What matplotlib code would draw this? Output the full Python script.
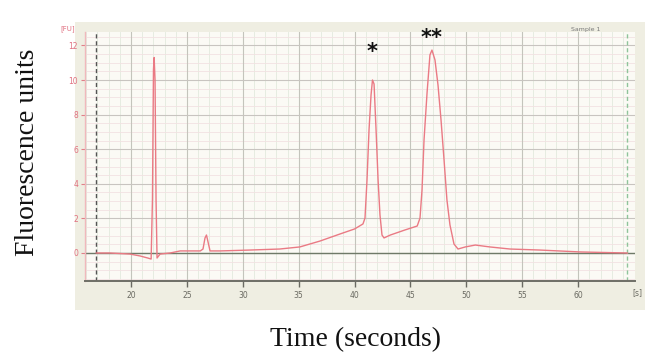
import matplotlib
matplotlib.use("Agg")
import matplotlib.pyplot as plt
import numpy as np

# ---- data ----
time_s = [16.9, 18.1, 19.9, 20.8, 21.5, 21.8, 21.92, 22.01, 22.07, 22.15, 22.24, 22.33,
          22.6, 23.5, 24.4, 26.2, 26.44, 26.62, 26.75, 26.89, 27.07, 28.0, 30.6, 33.3,
          35.1, 36.9, 38.7, 40.0, 40.75, 40.93, 41.11, 41.29, 41.47, 41.6, 41.74, 41.92,
          42.1, 42.27, 42.45, 42.63, 43.2, 44.5, 45.6, 45.85, 46.03, 46.21, 46.48, 46.74,
          46.92, 47.19, 47.46, 47.73, 48.0, 48.26, 48.53, 48.89, 49.25, 49.9, 50.8, 52.1,
          53.9, 56.6, 60.2, 64.4]
fu = [0.0, 0.0, -0.06, -0.17, -0.29, -0.35, 3.1, 10.6, 11.3, 10.0, 3.1, -0.29,
      -0.06, 0.0, 0.12, 0.12, 0.23, 0.87, 1.04, 0.64, 0.12, 0.12, 0.17, 0.23,
      0.35, 0.69, 1.10, 1.39, 1.68, 2.02, 4.22, 7.11, 9.13, 10.0, 9.77, 7.11,
      4.22, 2.2, 1.04, 0.87, 1.04, 1.33, 1.56, 2.02, 3.64, 6.53, 9.25, 11.45,
      11.73, 11.16, 9.71, 7.69, 5.38, 3.06, 1.62, 0.52, 0.23, 0.35, 0.46, 0.35,
      0.23, 0.17, 0.06, 0.0]

x_ticks = [20, 25, 30, 35, 40, 45, 50, 55, 60]
y_ticks = [0, 2, 4, 6, 8, 10, 12]
peak_marks = ["*", "**"]
peak_times = [41.6, 46.92]
mark_levels = [11.3, 12.1]

W, H = 657, 358
fig = plt.figure(figsize=(W / 100, H / 100), dpi=100)
fig.patch.set_facecolor("white")

# beige instrument panel (background axes)
bg = fig.add_axes([75 / W, 1 - 310 / H, (645 - 75) / W, (310 - 22) / H], zorder=0)
bg.set_facecolor("#efeee2")
bg.set_xticks([]); bg.set_yticks([])
for s in bg.spines.values():
    s.set_visible(False)

ax_l, ax_r, ax_t, ax_b = 85, 635, 32, 281
ax = fig.add_axes([ax_l / W, 1 - ax_b / H, (ax_r - ax_l) / W, (ax_b - ax_t) / H], zorder=1)
ax.set_facecolor("#fbfaf5")

px_per_s = 11.18
px_per_fu = 17.3
x0 = 20 + (ax_l - 131) / px_per_s
x1 = 20 + (ax_r - 131) / px_per_s
y0 = (253 - ax_b) / px_per_fu
y1 = (253 - ax_t) / px_per_fu
ax.set_xlim(x0, x1)
ax.set_ylim(y0, y1)

# grid
for t in np.arange(16, 65, 1):
    ax.axvline(t, color="#e2eade", lw=0.6, zorder=1)
for v in np.arange(-1.5, 12.6, 0.5):
    ax.axhline(v, color="#f2e2e2", lw=0.6, zorder=1)
for t in x_ticks:
    ax.axvline(t, color="#c4c4bc", lw=0.8, zorder=1.5)
for v in y_ticks:
    ax.axhline(v, color="#c8c4c0", lw=0.8, zorder=1.5)

# baseline and limit lines
ax.axhline(0, color="#6f7a68", lw=1.0, zorder=2)
ax.axvline(20 + (96 - 131) / px_per_s, color="#555555", lw=1.0, ls=(0, (3, 2)), zorder=2)
ax.axvline(20 + (627 - 131) / px_per_s, color="#8fc49a", lw=1.0, ls=(0, (3, 2)), zorder=2)

# trace
ax.plot(time_s, fu, color="#ea7a84", lw=1.0, zorder=3)

for m, t, lvl in zip(peak_marks, peak_times, mark_levels):
    ax.text(t, lvl, m, ha="center", va="baseline", fontsize=15,
            fontweight="bold", color="#111111", family="DejaVu Sans", clip_on=False)

# axes styling
for s in ["top", "right"]:
    ax.spines[s].set_visible(False)
ax.spines["left"].set_color("#f0b8bc")
ax.spines["left"].set_linewidth(1.0)
ax.spines["bottom"].set_color("#6e6e66")
ax.spines["bottom"].set_linewidth(1.4)

ax.set_xticks(x_ticks)
ax.set_xticklabels([str(t) for t in x_ticks])
ax.set_yticks(y_ticks)
ax.set_yticklabels([str(v) for v in y_ticks])
ax.tick_params(axis="x", colors="#6a6a62", labelsize=5.5, length=4, width=1, pad=3)
ax.tick_params(axis="y", colors="#e08088", labelsize=5.5, length=3, width=0.8, pad=2)
ax.tick_params(axis="y", labelcolor="#e07080")

fig.text(68 / W, 1 - 29 / H, "[FU]", color="#e07080", fontsize=5, ha="center", va="center")
fig.text(637 / W, 1 - 293 / H, "[s]", color="#6a6a62", fontsize=5.5, ha="center", va="center")
fig.text(600 / W, 1 - 30 / H, "Sample 1", color="#777777", fontsize=4.5, ha="right", va="center")

fig.text(28 / W, 1 - 152 / H, "Fluorescence units", rotation=90, ha="center", va="center",
         family="Liberation Serif", fontsize=20, color="#111111")
fig.text(355 / W, 1 - 340 / H, "Time (seconds)", ha="center", va="center",
         family="Liberation Serif", fontsize=20, color="#111111")

fig.savefig("out.png", dpi=100)
